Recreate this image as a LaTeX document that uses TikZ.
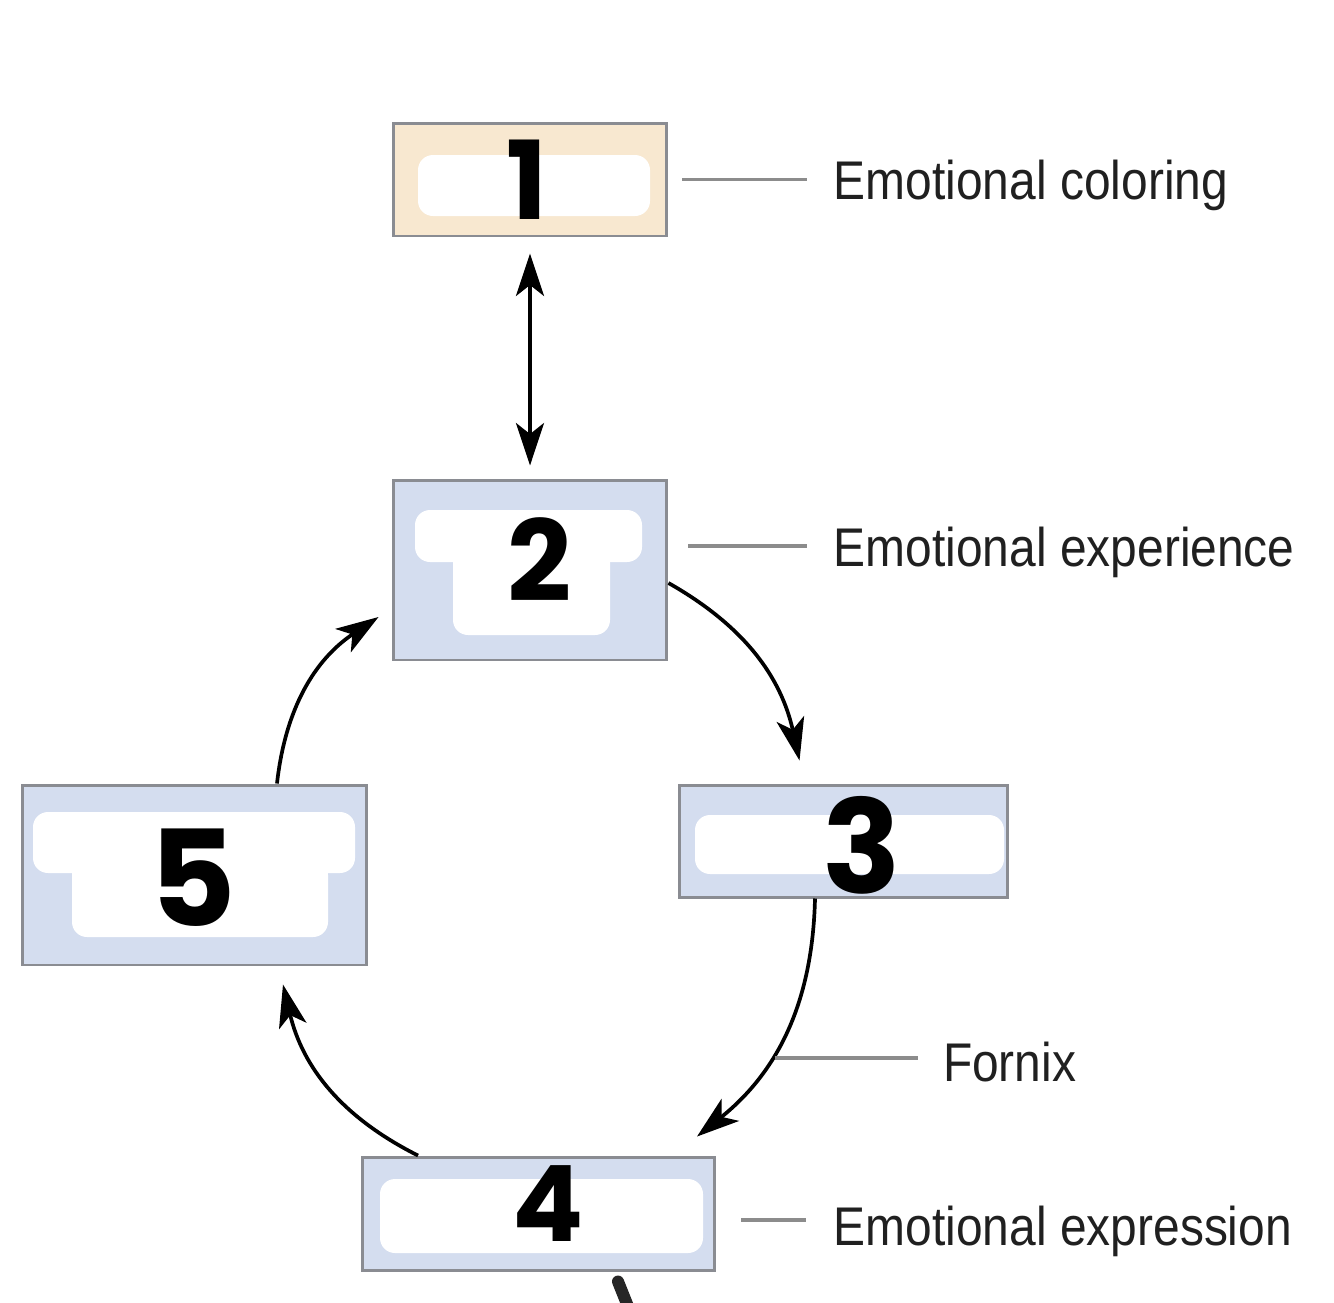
\documentclass[tikz,border=0pt]{standalone}
\usepackage{fontspec}
\usetikzlibrary{positioning,arrows.meta}
\newfontfamily\labelfont[FakeStretch=0.88]{Liberation Sans}
\newfontfamily\digitfont{Poppins}
\definecolor{boxblue}{RGB}{212,221,239}
\definecolor{boxbeige}{RGB}{248,232,208}
\definecolor{boxline}{RGB}{138,140,146}
\definecolor{leadgray}{RGB}{140,140,140}
\definecolor{labelgray}{RGB}{32,32,32}

\begin{document}
\begin{tikzpicture}[
                            x=0.02cm, y=-0.02cm,
                            node distance=3.3cm,
                            >={Stealth[length=0.85cm,width=0.56cm,inset=0.22cm]},
                            box/.style={draw=boxline, line width=1.7pt, fill=boxblue, rectangle},
                            patch/.style={fill=white, rounded corners=0.3cm},
                            digit/.style={font=\digitfont\bfseries\fontsize{#1}{#1}\selectfont, inner sep=0pt},
                            labeltext/.style={font=\labelfont\fontsize{31}{31}\selectfont, text=labelgray, inner sep=0pt},
                            lead/.style={draw=leadgray, line width=2pt},
                            flow/.style={->, line width=2.1pt}
                            ]

                            \useasboundingbox (0,0) rectangle (1334,1302);

                            % boxes
                            \node [box, fill=boxbeige, minimum width=5.48cm, minimum height=2.26cm] (b1) at (530,179.5) {};
                            \node [box, minimum width=5.48cm, minimum height=3.6cm] (b2) at (530,570) {};
                            \node [box, minimum width=6.58cm, minimum height=2.24cm] (b3) at (843.5,841) {};
                            \node [box, minimum width=7.06cm, minimum height=2.26cm] (b4) at (538.5,1213.5) {};
                            \node [box, minimum width=6.9cm, minimum height=3.6cm] (b5) at (194.5,875) {};

                            % white patches
                            \fill [patch] (418,155) rectangle (650,216);
                            \fill [patch] (415,510) rectangle (642,562);
                            \fill [patch] (453,545) rectangle (610,635);
                            \fill [patch] (695,815) rectangle (1004,874);
                            \fill [patch] (380,1179) rectangle (703,1253);
                            \fill [patch] (33,812) rectangle (355,873);
                            \fill [patch] (72,860) rectangle (328,937);

                            \node [digit=62] (d1) at (527,180) {1};
                            \node [digit=64] (d2) at (540,560) {2};
                            \node [digit=74] (d3) at (862,845) {3};
                            \node [digit=60] (d4) at (548,1204) {4};
                            \node [digit=76] (d5) at (193,878) {5};

                            % labels
                            \node [labeltext, anchor=west, right=of b1, yshift=-0.12cm] (lab1) {Emotional coloring};
                            \node [labeltext, anchor=west, right=of b2, yshift=0.36cm] (lab2) {Emotional experience};
                            \node [labeltext, anchor=west, right=2.34cm of b4, yshift=-0.36cm] (lab4) {Emotional expression};

                            % arrows
                            \draw[<->, line width=2.1pt, shorten <=0.32cm, shorten >=0.26cm] (b1.south) -- (b2.north);
                            \draw[flow] ([yshift=-0.26cm]b2.east) to[bend left=24] ([xshift=-0.88cm,yshift=0.46cm]b3.north);
                            \draw[flow] ([xshift=-0.57cm]b3.south) to[bend left=25] coordinate[pos=0.615] (fx) ([xshift=3.17cm,yshift=0.38cm]b4.north);
                            \draw[flow] ([xshift=-2.41cm]b4.north) to[bend left=25] ([xshift=1.77cm,yshift=-0.36cm]b5.south);
                            \draw[flow] ([xshift=1.65cm]b5.north) to[bend left=25] ([xshift=-0.26cm,yshift=-0.94cm]b2.west);

                            \node [labeltext, anchor=west, right=3.44cm of fx, yshift=-0.08cm] (fornix) {Fornix};

                            % leader lines
                            \draw[lead, shorten <=0.28cm, shorten >=0.52cm] (b1.east) -- (b1.east -| lab1.west);
                            \draw[lead, shorten <=0.4cm, shorten >=0.52cm] ([yshift=0.12cm]b2.east |- lab2.west) -- ([yshift=0.12cm]lab2.west);
                            \draw[lead, shorten <=0.5cm, shorten >=0.54cm] ([yshift=-0.13cm]b4.east) -- ([yshift=-0.13cm]b4.east -| lab4.west);
                            \draw[lead, shorten <=0.08cm, shorten >=0.5cm] (fx) -- (fx -| fornix.west);

                            % pen stroke below box 4
                            \draw[line width=0.24cm, line cap=round, black!85] ([xshift=1.59cm,yshift=-0.2cm]b4.south) -- ++(12,30);

                        \end{tikzpicture}
\end{document}
